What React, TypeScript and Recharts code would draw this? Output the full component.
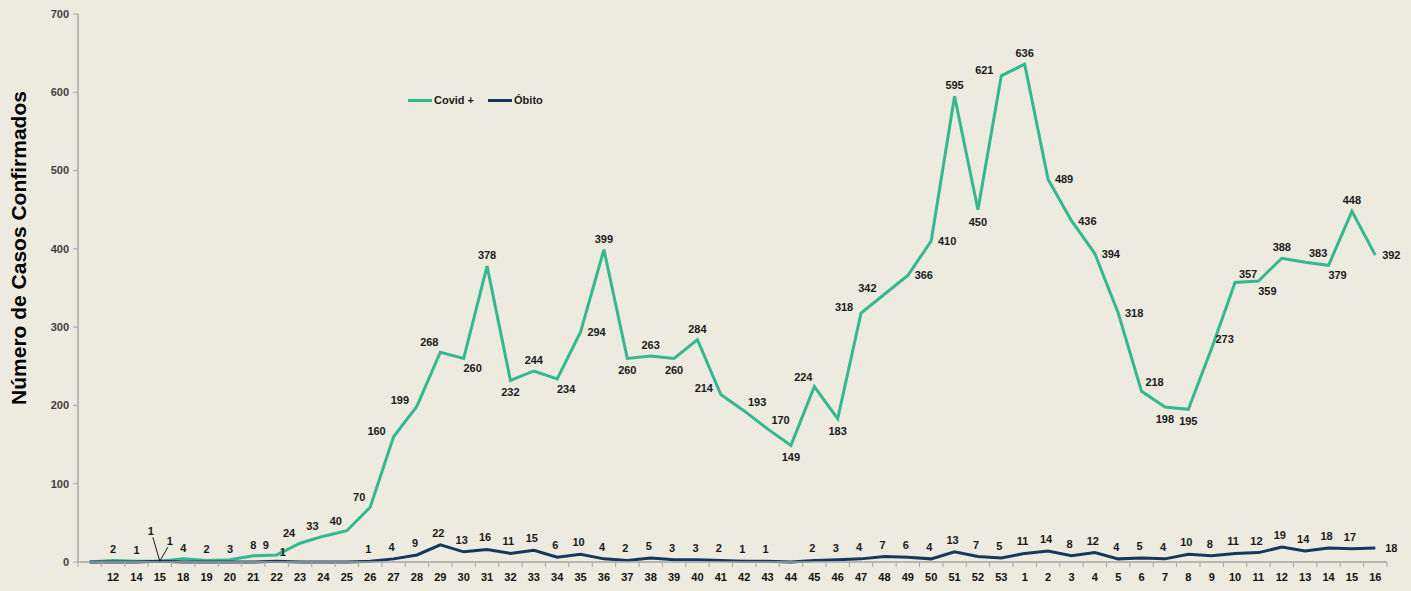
import React from 'react'
import { LineChart, Line, XAxis, YAxis, LabelList } from 'recharts'

// semanas epidemiológicas (a primeira categoria fica sem rótulo)
const weeks = [
  '', '12', '14', '15', '18', '19', '20', '21', '22',
  '23', '24', '25', '26', '27', '28', '29', '30', '31', '32', '33', '34', '35', '36', '37', '38',
  '39', '40', '41', '42', '43', '44', '45', '46', '47', '48', '49', '50', '51', '52', '53',
  '1', '2', '3', '4', '5', '6', '7', '8', '9', '10', '11', '12', '13', '14', '15', '16'
]

const covid = [
  0, 2, 1, 1, 4, 2, 3, 8, 9,
  24, 33, 40, 70, 160, 199, 268, 260, 378, 232, 244, 234, 294, 399, 260, 263,
  260, 284, 214, 193, 170, 149, 224, 183, 318, 342, 366, 410, 595, 450, 621,
  636, 489, 436, 394, 318, 218, 198, 195, 273, 357, 359, 388, 383, 379, 448, 392
]

const obitos = [
  0, 0, 0, 1, 0, 0, 0, 0, 1,
  0, 0, 0, 1, 4, 9, 22, 13, 16, 11, 15, 6, 10, 4, 2, 5,
  3, 3, 2, 1, 1, 0, 2, 3, 4, 7, 6, 4, 13, 7, 5,
  11, 14, 8, 12, 4, 5, 4, 10, 8, 11, 12, 19, 14, 18, 17, 18
]

const yTicks = [0, 100, 200, 300, 400, 500, 600, 700]

// onde fica cada rótulo em relação ao ponto
const covidLabelPos = [
  '-', 'a', 'a', 'lead', 'a', 'a', 'a', 'a', 'al',
  'al', 'al', 'al', 'al', 'l', 'l', 'al', 'br', 'a', 'b', 'a', 'br', 'r', 'a', 'b', 'a',
  'b', 'a', 'l', 'ar', 'ar', 'b', 'al', 'b', 'l', 'l', 'r', 'r', 'a', 'b', 'l',
  'a', 'r', 'r', 'r', 'r', 'ar', 'b', 'b', 'ar', 'ar', 'br', 'a', 'ar', 'br', 'a', 'r'
]

const GREEN = '#34b892'
const NAVY = '#17375e'
const BG = '#edeae0'
const AXIS = '#a6a6a6'
const FONT = '"Liberation Sans", Arial, sans-serif'

const W = 1411
const H = 591
const M = { top: 14, right: 24, bottom: 9, left: 0 }
const Y_AXIS_W = 78
const PLOT_W = W - M.left - M.right - Y_AXIS_W
const BAND = PLOT_W / weeks.length

const rows = weeks.map((w, i) => ({ idx: i, week: w, covid: covid[i], obito: obitos[i] }))
const boundaries = weeks.map((_, i) => i - 0.5).concat([weeks.length - 0.5])

const OFFSETS: Record<string, [number, number]> = {
  a: [0, -11],
  b: [0, 12],
  l: [-17, -6],
  r: [16, 0],
  al: [-11, -10],
  ar: [13, -9],
  br: [9, 10]
}

const txt = { fontFamily: FONT, fontSize: 11, fontWeight: 700, fill: '#1a1a1a' }

function pt(props: any) {
  const vb = props.viewBox || {}
  return { x: props.x ?? vb.x, y: props.y ?? vb.y }
}

function CovidLabel(props: any) {
  const { index, value } = props
  const { x, y } = pt(props)
  const pos = covidLabelPos[index]
  if (pos === '-' || x == null) return null
  if (pos === 'lead') {
    return (
      <g>
        <line x1={x - 7} y1={y - 24} x2={x} y2={y} stroke='#1a1a1a' strokeWidth={1} />
        <text x={x - 9} y={y - 30} textAnchor='middle' dominantBaseline='central' {...txt}>{value}</text>
      </g>
    )
  }
  const [dx, dy] = OFFSETS[pos]
  return (
    <text x={x + dx} y={y + dy} textAnchor='middle' dominantBaseline='central' {...txt}>{value}</text>
  )
}

function ObitoLabel(props: any) {
  const { index, value } = props
  const { x, y } = pt(props)
  if (!value || x == null) return null
  if (index === 3) {
    return (
      <g>
        <line x1={x + 8} y1={y - 14} x2={x} y2={y} stroke='#1a1a1a' strokeWidth={1} />
        <text x={x + 10} y={y - 20} textAnchor='middle' dominantBaseline='central' {...txt}>{value}</text>
      </g>
    )
  }
  if (index === 8) {
    return <text x={x + 6} y={y - 9} textAnchor='middle' dominantBaseline='central' {...txt}>{value}</text>
  }
  if (index === weeks.length - 1) {
    return <text x={x + 16} y={y} textAnchor='middle' dominantBaseline='central' {...txt}>{value}</text>
  }
  return <text x={x - 2} y={y - 12} textAnchor='middle' dominantBaseline='central' {...txt}>{value}</text>
}

function WeekTick(props: any) {
  const { x, y, payload } = props
  const i = Math.round(payload.value + 0.5) - 1
  if (i < 0 || i >= weeks.length) return null
  return (
    <text x={x - BAND / 2} y={y + 12} textAnchor='middle' {...txt} fill='#111'>
      {weeks[i]}
    </text>
  )
}

function YTitle() {
  return (
    <text
      x={18}
      y={248}
      transform='rotate(-90, 18, 248)'
      textAnchor='middle'
      dominantBaseline='central'
      style={{ fontFamily: FONT, fontSize: 21, fontWeight: 700 }}
      fill='#000'
    >
      Número de Casos Confirmados
    </text>
  )
}

function App() {
  return (
    <div style={{ position: 'absolute', left: 0, top: 0, width: W, height: H, background: BG }}>
      <LineChart width={W} height={H} data={rows} margin={M}>
        <XAxis
          type='number'
          dataKey='idx'
          domain={[-0.5, weeks.length - 0.5]}
          ticks={boundaries}
          interval={0}
          height={20}
          tickSize={5}
          tick={<WeekTick />}
          axisLine={{ stroke: AXIS, strokeWidth: 1.5 }}
          tickLine={{ stroke: AXIS }}
        />
        <YAxis
          width={Y_AXIS_W}
          domain={[0, 700]}
          ticks={yTicks}
          interval={0}
          tickSize={5}
          tickMargin={4}
          tick={{ fontFamily: FONT, fontSize: 11, fontWeight: 700, fill: '#404040' }}
          axisLine={{ stroke: AXIS, strokeWidth: 1.5 }}
          tickLine={{ stroke: AXIS }}
          label={<YTitle />}
        />
        <Line
          type='linear'
          dataKey='covid'
          stroke={GREEN}
          strokeWidth={3}
          dot={false}
          isAnimationActive={false}
        >
          <LabelList dataKey='covid' content={<CovidLabel />} />
        </Line>
        <Line
          type='linear'
          dataKey='obito'
          stroke={NAVY}
          strokeWidth={3}
          dot={false}
          isAnimationActive={false}
        >
          <LabelList dataKey='obito' content={<ObitoLabel />} />
        </Line>
      </LineChart>

      <div
        style={{
          position: 'absolute',
          left: 408,
          top: 94,
          display: 'flex',
          alignItems: 'center',
          fontFamily: FONT,
          fontSize: 11,
          fontWeight: 700,
          color: '#1a1a1a'
        }}
      >
        <span style={{ display: 'inline-block', width: 24, height: 3, background: GREEN, marginRight: 2 }} />
        <span style={{ marginRight: 14 }}>Covid +</span>
        <span style={{ display: 'inline-block', width: 24, height: 3, background: NAVY, marginRight: 2 }} />
        <span>Óbito</span>
      </div>
    </div>
  )
}

export default App
